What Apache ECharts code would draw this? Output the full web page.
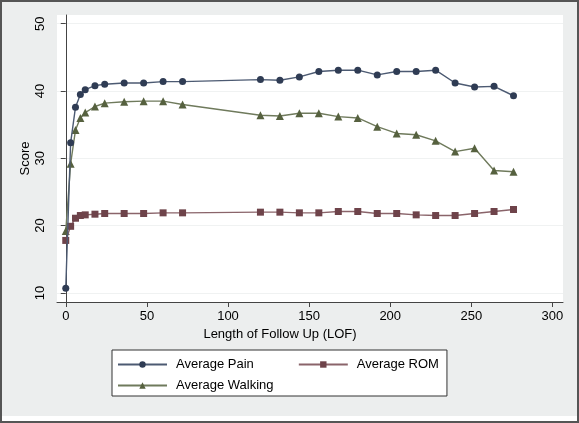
<!DOCTYPE html>
<html>
<head>
<meta charset="utf-8">
<script src="https://cdn.jsdelivr.net/npm/echarts@6/dist/echarts.min.js"></script>
<style>
html,body{margin:0;padding:0;background:#fff;}
#wrap{width:579px;height:423px;box-sizing:border-box;border:2px solid #555;background:#fff;padding-bottom:5px;}
#chart{width:575px;height:414px;}
</style>
</head>
<body>
<div id="wrap"><div id="chart"></div></div>
<script>
const followUp = [0, 3, 6, 9, 12, 18, 24, 36, 48, 60, 72, 120, 132, 144, 156, 168, 180, 192, 204, 216, 228, 240, 252, 264, 276];
const avgPain = [10.7, 32.3, 37.6, 39.5, 40.2, 40.8, 41.0, 41.2, 41.2, 41.4, 41.4, 41.7, 41.6, 42.1, 42.9, 43.1, 43.1, 42.4, 42.9, 42.9, 43.1, 41.2, 40.6, 40.7, 39.3];
const avgROM = [17.8, 19.9, 21.1, 21.5, 21.6, 21.7, 21.8, 21.8, 21.8, 21.9, 21.9, 22.0, 22.0, 21.9, 21.9, 22.1, 22.1, 21.8, 21.8, 21.6, 21.5, 21.5, 21.8, 22.1, 22.4];
const avgWalking = [19.2, 29.2, 34.2, 36.0, 36.8, 37.7, 38.2, 38.4, 38.5, 38.5, 38.0, 36.4, 36.3, 36.7, 36.7, 36.2, 36.0, 34.7, 33.7, 33.5, 32.6, 31.0, 31.5, 28.2, 28.0];
const xTicks = [0, 50, 100, 150, 200, 250, 300];
const yTicks = [10, 20, 30, 40, 50];

const pairs = (ys) => followUp.map((x, i) => [x, ys[i]]);
const FONT = "'Liberation Sans', Arial, Helvetica, sans-serif";

const chart = echarts.init(document.getElementById('chart'), null, {renderer: 'canvas'});
chart.setOption({
  backgroundColor: '#eceeee',
  animation: false,
  textStyle: {fontFamily: FONT},
  grid: {left: 55, top: 13, width: 506, height: 287, show: true, backgroundColor: '#ffffff', borderWidth: 0},
  xAxis: {
    type: 'value', min: -5.4, max: 306.5,
    name: 'Length of Follow Up (LOF)', nameLocation: 'middle', nameGap: 23,
    nameTextStyle: {fontSize: 13, color: '#000', fontFamily: FONT, padding: [0, 60, 0, 0]},
    axisLine: {show: true, lineStyle: {color: '#444', width: 1}},
    axisTick: {show: true, length: 5, customValues: xTicks, lineStyle: {color: '#444'}},
    axisLabel: {customValues: xTicks, fontSize: 13, color: '#000', margin: 8, fontFamily: FONT},
    splitLine: {show: false}
  },
  yAxis: {
    type: 'value', min: 8.65, max: 51.3,
    name: 'Score', nameLocation: 'middle', nameGap: 25, nameMoveOverlap: false,
    nameTextStyle: {fontSize: 13, color: '#000', fontFamily: FONT},
    axisLine: {show: true, lineStyle: {color: '#444', width: 1}},
    axisTick: {show: true, length: 5, customValues: yTicks, lineStyle: {color: '#444'}},
    axisLabel: {customValues: yTicks, fontSize: 13, color: '#000', margin: 10, rotate: 90, fontFamily: FONT},
    splitLine: {show: true, lineStyle: {color: '#f0f2f2', width: 1}}
  },
  legend: [{
    data: ['Average Pain', 'Average ROM'],
    left: 110, top: 348,
    orient: 'horizontal',
    itemWidth: 49, itemHeight: 8, itemGap: 44,
    padding: [8, 8, 25, 5],
    backgroundColor: '#ffffff', borderColor: '#333', borderWidth: 1, borderRadius: 0,
    textStyle: {fontSize: 13, color: '#000', fontFamily: FONT, padding: [0, 0, 0, 4]}
  }, {
    data: ['Average Walking'],
    left: 115, top: 377,
    orient: 'horizontal',
    itemWidth: 49, itemHeight: 8,
    padding: 0,
    textStyle: {fontSize: 13, color: '#000', fontFamily: FONT, padding: [0, 0, 0, 4]}
  }],
  series: [{
    name: 'Average Walking', type: 'line', data: pairs(avgWalking),
    symbol: 'triangle', symbolSize: 8, z: 2,
    itemStyle: {color: '#56613f'},
    lineStyle: {color: '#6f7a5c', width: 1.4}
  }, {
    name: 'Average ROM', type: 'line', data: pairs(avgROM),
    symbol: 'rect', symbolSize: 7, z: 3,
    itemStyle: {color: '#6e434a'},
    lineStyle: {color: '#8a646a', width: 1.4}
  }, {
    name: 'Average Pain', type: 'line', data: pairs(avgPain),
    symbol: 'circle', symbolSize: 7, z: 4,
    itemStyle: {color: '#2f3c54'},
    lineStyle: {color: '#4c5a72', width: 1.4}
  }]
});
</script>
</body>
</html>
